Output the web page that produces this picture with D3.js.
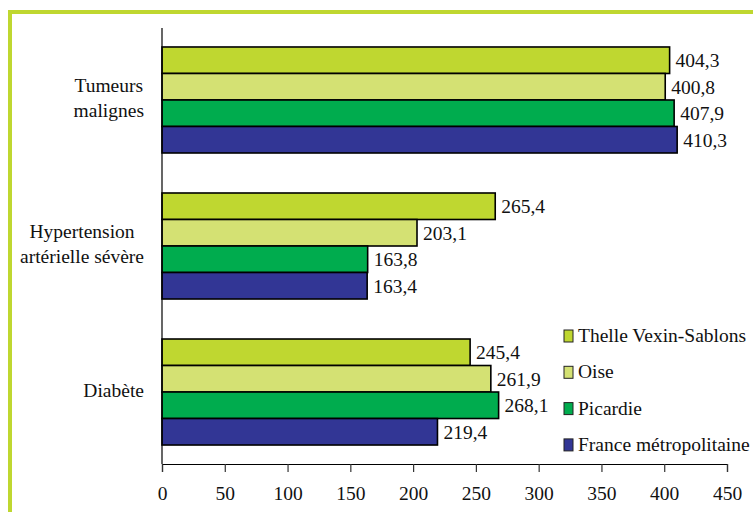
<!DOCTYPE html>
<html>
<head>
<meta charset="utf-8">
<script src="https://cdn.jsdelivr.net/npm/d3@7"></script>
<style>
  html, body { margin: 0; padding: 0; background: #fff; }
  #wrap { position: relative; width: 753px; height: 512px; }
  svg { display: block; position: absolute; left: 0; top: 0; }
  .cat { position: absolute; left: 0; width: 144px; text-align: right;
         font-family: "Liberation Serif"; font-size: 19.5px; line-height: 25px; color: #111; }
  .cat span { display: inline-block; text-align: center; white-space: nowrap; }
</style>
</head>
<body>
<div id="wrap"><svg id="chart" width="753" height="512"></svg></div>
<script>
// Categories (top to bottom), each split into its display lines
const categories = ["Tumeurs malignes", "Hypertension artérielle sévère", "Diabète"];
const categoryLines = [["Tumeurs", "malignes"], ["Hypertension", "artérielle sévère"], ["Diabète"]];

// Series, in the order they are stacked inside each group
const seriesNames = ["Thelle Vexin-Sablons", "Oise", "Picardie", "France métropolitaine"];
const thelle   = [404.3, 265.4, 245.4];
const oise     = [400.8, 203.1, 261.9];
const picardie = [407.9, 163.8, 268.1];
const france   = [410.3, 163.4, 219.4];
const seriesValues = [thelle, oise, picardie, france];
const seriesColors = ["#bfd730", "#d4e173", "#00ac4e", "#323695"];

const xTicks = [0, 50, 100, 150, 200, 250, 300, 350, 400, 450];

const FONT = '"Liberation Serif"';
const FS = "19.5px";

const svg = d3.select("#chart");
const frameColor = "#bfd730";

function label(sel) {
  return sel.style("font-family", FONT).style("font-size", FS).style("fill", "#111");
}

// Frame: top and left rules
svg.append("rect").attr("x", 8).attr("y", 10).attr("width", 745).attr("height", 4).attr("fill", frameColor);
svg.append("rect").attr("x", 8).attr("y", 10).attr("width", 4).attr("height", 502).attr("fill", frameColor);

const plot = { left: 162, right: 727, top: 28, bottom: 464 };

const x = d3.scaleLinear().domain([0, 450]).range([plot.left, plot.right]);
const y = d3.scaleBand().domain(categories).range([plot.top, plot.bottom])
  .paddingInner(0.274).paddingOuter(0.13);
const yInner = d3.scaleBand().domain(seriesNames).range([0, y.bandwidth()]);

const fmt = v => d3.format(".1f")(v).replace(".", ",");

// Bars with value labels
const groups = svg.append("g").selectAll("g")
  .data(categories).join("g")
  .attr("transform", c => `translate(0,${y(c)})`);

groups.each(function (c, ci) {
  const g = d3.select(this);
  seriesNames.forEach((s, si) => {
    const v = seriesValues[si][ci];
    g.append("rect")
      .attr("x", x(0))
      .attr("y", yInner(s))
      .attr("width", x(v) - x(0))
      .attr("height", yInner.bandwidth())
      .attr("fill", seriesColors[si])
      .attr("stroke", "#000")
      .attr("stroke-width", 1.6);
    label(g.append("text"))
      .attr("x", x(v) + 6)
      .attr("y", yInner(s) + yInner.bandwidth() / 2 + 7)
      .text(fmt(v));
  });
});

// Category labels: block right-aligned near the axis, lines centred within the block
d3.select("#wrap").selectAll("div.cat")
  .data(categories).join("div")
  .attr("class", "cat")
  .style("top", (c, i) => (y(c) + y.bandwidth() / 2 - categoryLines[i].length * 12.5 - 2) + "px")
  .append("span")
  .html((c, i) => categoryLines[i].join("<br>"));

// Axes
const xAxis = d3.axisBottom(x).tickValues(xTicks).tickSize(8).tickFormat(d3.format("d"));
const gx = svg.append("g").attr("transform", `translate(0,${plot.bottom})`).call(xAxis);
gx.attr("font-family", null).attr("font-size", null);
gx.select(".domain").attr("stroke", "#000").attr("stroke-width", 1.2);
gx.selectAll(".tick line").attr("stroke", "#333").attr("stroke-width", 1.2);
label(gx.selectAll(".tick text")).attr("dy", 0).attr("y", 36);

svg.append("line")
  .attr("x1", plot.left).attr("x2", plot.left)
  .attr("y1", plot.top).attr("y2", plot.bottom)
  .attr("stroke", "#000").attr("stroke-width", 1.2);

// Legend
const legend = svg.append("g").attr("transform", "translate(564,330)");
seriesNames.forEach((s, si) => {
  const row = legend.append("g").attr("transform", `translate(0,${si * 36.3})`);
  row.append("rect").attr("x", 0).attr("y", 0).attr("width", 9).attr("height", 12)
    .attr("fill", seriesColors[si]).attr("stroke", "#222").attr("stroke-width", 1);
  label(row.append("text")).attr("x", 14).attr("y", 12).text(s);
});
</script>
</body>
</html>
